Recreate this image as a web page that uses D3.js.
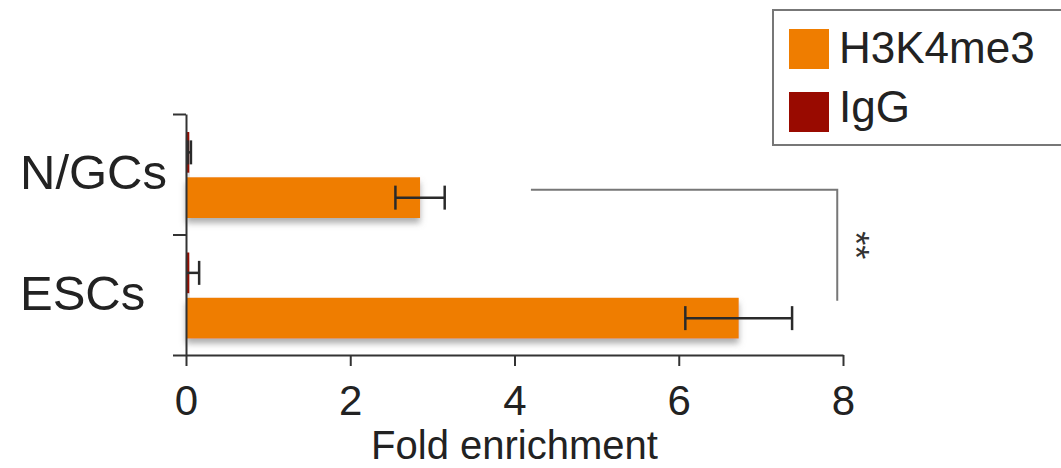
<!DOCTYPE html>
<html>
<head>
<meta charset="utf-8">
<script src="https://cdn.jsdelivr.net/npm/d3@7"></script>
<style>
  body { margin: 0; background: #fff; }
  text { font-family: "Liberation Sans", Arial, Helvetica, sans-serif; }
</style>
</head>
<body>
<script>
const width = 1061;
const height = 468;

// data
const cells = ['N/GCs', 'ESCs'];
const series = ['IgG', 'H3K4me3'];
const legend_order = ['H3K4me3', 'IgG'];
const igg_values = [0.04, 0.04];
const igg_errors = [0.02, 0.12];
const h3_values = [2.85, 6.73];
const h3_errors = [0.30, 0.65];
const x_ticks = [0, 2, 4, 6, 8];
const signif_label = '**';

const colors = {H3K4me3: '#ef7d00', IgG: '#990a00'};

const rows = [];
cells.forEach((c, i) => {
  rows.push({cell: c, series: 'IgG', value: igg_values[i], err: igg_errors[i]});
  rows.push({cell: c, series: 'H3K4me3', value: h3_values[i], err: h3_errors[i]});
});

const x = d3.scaleLinear().domain([0, 8]).range([186, 843]);
const y = d3.scaleBand().domain(cells).range([114, 355]);
const ySub = d3.scaleBand().domain(series).range([18, 104]).paddingInner(0.1);
const yIdx = d3.scaleLinear().domain([0, cells.length]).range([114, 355]);

const svg = d3.select('body').append('svg')
  .attr('width', width).attr('height', height);

const defs = svg.append('defs');
defs.append('filter').attr('id', 'shadow')
  .attr('x', '-5%').attr('y', '-20%').attr('width', '110%').attr('height', '160%')
  .append('feDropShadow')
  .attr('dx', 0).attr('dy', 5).attr('stdDeviation', 3)
  .attr('flood-color', '#777').attr('flood-opacity', 0.6);

// bars
svg.append('g').selectAll('rect')
  .data(rows)
  .join('rect')
  .attr('x', x(0))
  .attr('y', d => y(d.cell) + ySub(d.series))
  .attr('width', d => x(d.value) - x(0))
  .attr('height', ySub.bandwidth())
  .attr('fill', d => colors[d.series])
  .attr('filter', 'url(#shadow)');

// error bars
const capH = 12;
const eb = svg.append('g').attr('stroke', '#2a2a2a').attr('stroke-width', 2.5);
rows.forEach(d => {
  const cy = y(d.cell) + ySub(d.series) + ySub.bandwidth() / 2;
  const x0 = x(Math.max(0, d.value - d.err)), x1 = x(d.value + d.err);
  eb.append('line').attr('x1', x0).attr('x2', x1).attr('y1', cy).attr('y2', cy);
  eb.append('line').attr('x1', x1).attr('x2', x1).attr('y1', cy - capH).attr('y2', cy + capH);
  if (d.value - d.err > 0)
    eb.append('line').attr('x1', x0).attr('x2', x0).attr('y1', cy - capH).attr('y2', cy + capH);
});

// x axis
const xAxis = svg.append('g')
  .attr('transform', `translate(0,${y.range()[1]})`)
  .call(d3.axisBottom(x).tickValues(x_ticks).tickSize(11).tickSizeOuter(0).tickPadding(19));
xAxis.select('.domain').attr('stroke', '#333').attr('stroke-width', 2);
xAxis.selectAll('.tick line').attr('stroke', '#333').attr('stroke-width', 2);
xAxis.selectAll('.tick text').attr('font-size', 42).attr('fill', '#222')
  .attr('font-family', '"Liberation Sans", Arial, sans-serif');

// y axis (ticks at band edges)
const yAxis = svg.append('g')
  .attr('transform', `translate(${x(0)},0)`)
  .call(d3.axisLeft(yIdx).ticks(cells.length).tickSize(13).tickSizeOuter(0).tickFormat(''));
yAxis.select('.domain').attr('stroke', '#333').attr('stroke-width', 2);
yAxis.selectAll('.tick line').attr('stroke', '#333').attr('stroke-width', 2);

svg.append('g').selectAll('text')
  .data(cells)
  .join('text')
  .attr('x', 20)
  .attr('y', d => y(d) + y.bandwidth() / 2 + 15)
  .attr('font-size', 49)
  .attr('fill', '#222')
  .text(d => d);

svg.append('text')
  .attr('x', (x.range()[0] + x.range()[1]) / 2)
  .attr('y', 459)
  .attr('text-anchor', 'middle')
  .attr('font-size', 40)
  .attr('fill', '#222')
  .text('Fold enrichment');

// significance bracket
const yTop = y(cells[0]) + ySub('H3K4me3') + ySub.bandwidth() / 2 - 8;
const yBot = y(cells[1]) + ySub('H3K4me3') + 3;
const bx0 = x(4.2), bx1 = x(7.93);
svg.append('path')
  .attr('d', `M${bx0},${yTop}H${bx1}V${yBot}`)
  .attr('fill', 'none').attr('stroke', '#777').attr('stroke-width', 2);
svg.append('text')
  .attr('transform', `translate(${bx1 + 6},${(yTop + yBot) / 2}) rotate(90)`)
  .attr('text-anchor', 'middle')
  .attr('font-size', 36)
  .attr('fill', '#333')
  .text(signif_label);

// legend
const lg = svg.append('g');
lg.append('rect').attr('x', 773).attr('y', 10).attr('width', 320).attr('height', 135)
  .attr('fill', '#fff').attr('stroke', '#777').attr('stroke-width', 2);
legend_order.forEach((s, i) => {
  lg.append('rect').attr('x', 789).attr('y', 29 + i * 63).attr('width', 40).attr('height', 40)
    .attr('fill', colors[s]);
  lg.append('text').attr('x', 839).attr('y', 63 + i * 59).attr('font-size', 44)
    .attr('fill', '#222').text(s);
});
</script>
</body>
</html>
